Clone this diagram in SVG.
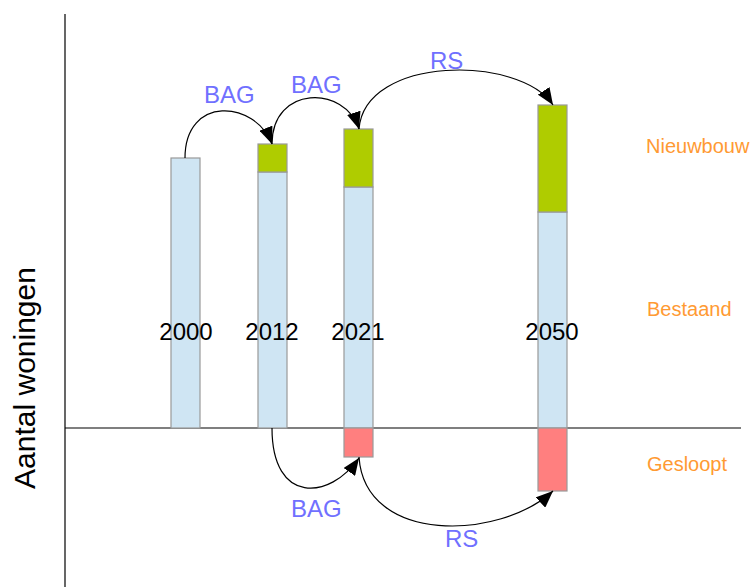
<svg xmlns="http://www.w3.org/2000/svg" width="750" height="587" viewBox="0 0 750 587">
<style>
.ex{fill:#cfe5f3;stroke:#999;stroke-width:1.2}
.nw{fill:#afcc00;stroke:#999;stroke-width:1.2}
.gs{fill:#ff7f7f;stroke:#999;stroke-width:1.2}
.ax{stroke:#000;stroke-width:1.2;fill:none}
.arr{stroke:#000;stroke-width:1.2;fill:none;marker-end:url(#ah)}
.yr{font-family:"Liberation Sans",Arial,sans-serif;font-size:24px;fill:#000;text-anchor:middle}
.src{font-family:"Liberation Sans",Arial,sans-serif;font-size:24px;fill:#7070ff}
.leg{font-family:"Liberation Sans",Arial,sans-serif;font-size:20px;fill:#ff9a33}
</style>
<defs>
<marker id="ah" markerUnits="userSpaceOnUse" markerWidth="18" markerHeight="14" refX="17" refY="7" orient="auto">
<path d="M0,0 L17,7 L0,14 z" fill="#000"/>
</marker>
</defs>
<g id="axes">
<line class="ax" x1="65" y1="14" x2="65" y2="587"/>
<line class="ax" x1="65" y1="428" x2="741" y2="428"/>
<text transform="translate(35,378) rotate(-90)" font-family="Liberation Sans,Arial,sans-serif" font-size="30" fill="#000" text-anchor="middle">Aantal woningen</text>
</g>
<g id="bar2000">
<rect class="ex" x="171" y="158" width="29" height="270"/>
<text class="yr" x="186" y="340">2000</text>
</g>
<g id="bar2012">
<rect class="ex" x="258" y="172" width="29" height="256"/>
<rect class="nw" x="258" y="144" width="29" height="28"/>
<text class="yr" x="272" y="340">2012</text>
</g>
<g id="bar2021">
<rect class="ex" x="344" y="187" width="29" height="241"/>
<rect class="nw" x="344" y="129" width="29" height="58"/>
<rect class="gs" x="344" y="428" width="29" height="29"/>
<text class="yr" x="358" y="340">2021</text>
</g>
<g id="bar2050">
<rect class="ex" x="538" y="212" width="29" height="216"/>
<rect class="nw" x="538" y="105" width="29" height="107"/>
<rect class="gs" x="538" y="428" width="29" height="63"/>
<text class="yr" x="552" y="340">2050</text>
</g>
<g id="legend">
<text class="leg" x="646" y="153">Nieuwbouw</text>
<text class="leg" x="647" y="316">Bestaand</text>
<text class="leg" x="647" y="471">Gesloopt</text>
</g>
<g id="connectors">
<path class="arr" d="M185,158 C185,95 255,100 272,144"/>
<path class="arr" d="M272,144 C272,85 345,85 359,129"/>
<path class="arr" d="M359,129 C365,55 520,55 553,105"/>
<path class="arr" d="M272,428 C272,505 330,500 359,458"/>
<path class="arr" d="M359,457 C365,545 500,540 553,491"/>
<text class="src" x="204" y="103">BAG</text>
<text class="src" x="291" y="93">BAG</text>
<text class="src" x="430" y="69">RS</text>
<text class="src" x="291" y="517">BAG</text>
<text class="src" x="445" y="547">RS</text>
</g>
</svg>
